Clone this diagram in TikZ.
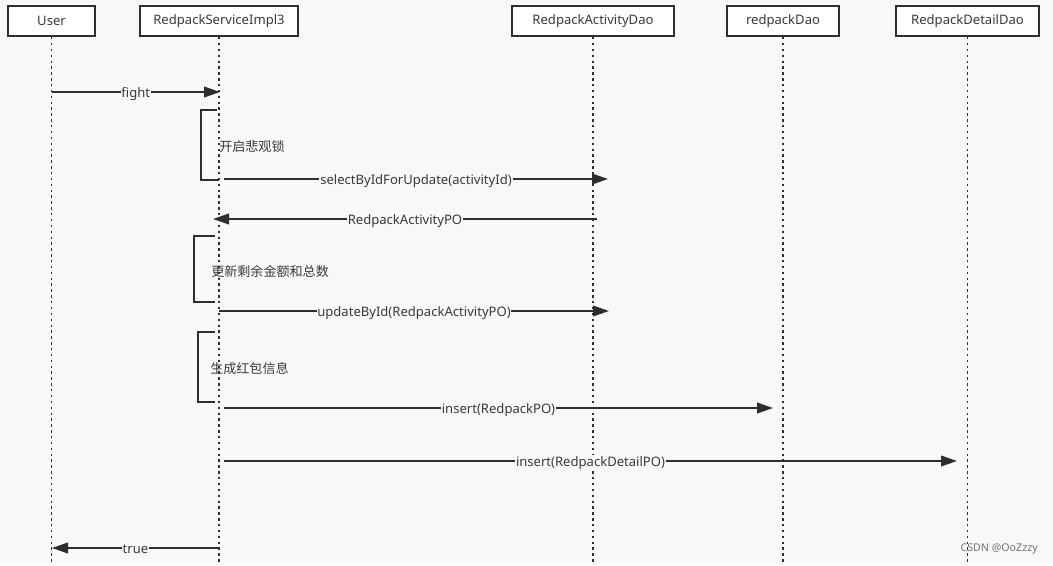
\documentclass[tikz,border=0pt]{standalone}
\usepackage{fontspec}
\setmainfont{Noto Sans}
\newfontfamily\cjk{Noto Sans CJK SC}
\usetikzlibrary{arrows.meta}
\definecolor{bg}{HTML}{F8F8F8}
\definecolor{ink}{HTML}{2E2E2E}
\definecolor{txt}{HTML}{3A3A3A}
\begin{document}
\begin{tikzpicture}[x=0.75pt,y=-0.75pt,
  font=\fontsize{9.8}{11}\selectfont,
  actor/.style={draw=ink,line width=1.6pt,fill=white,minimum height=22.5pt,inner sep=0pt,text=txt},
  life/.style={draw=ink,line width=1.3pt,dash pattern=on 1.8pt off 2.6pt},
  msg/.style={draw=ink,line width=1.3pt,-{Triangle[length=12pt,width=8pt]}},
  lbl/.style={fill=bg,inner sep=0.6pt,text=txt,yshift=-1.2pt},
  brk/.style={draw=ink,line width=1.4pt},
  note/.style={anchor=west,inner sep=0pt,text=txt,font=\cjk\fontsize{9.8}{11}\selectfont}]
\fill[bg] (0,0) rectangle (1053,565);
\useasboundingbox (0,0) rectangle (1053,565);
% actors
\node[actor,minimum width=65.25pt] (user) at (51.5,21) {User};
\node[actor,minimum width=118.5pt] (svc) at (219,21) {RedpackServiceImpl3};
\node[actor,minimum width=121.5pt] (act) at (593,21) {RedpackActivityDao};
\node[actor,minimum width=84pt] (red) at (783,21) {redpackDao};
\node[actor,minimum width=107.25pt] (det) at (967.5,21) {RedpackDetailDao};
% lifeline ends
\coordinate (userE) at (51.5,565);
\coordinate (svcE) at (219,565);
\coordinate (actE) at (593,565);
\coordinate (redE) at (783,565);
\coordinate (detE) at (967.5,565);
\draw[life] (user.south) -- (userE);
\draw[life] (svc.south) -- (svcE);
\draw[life] (act.south) -- (actE);
\draw[life] (red.south) -- (redE);
\draw[life] (det.south) -- (detE);
% message end points
\coordinate (m1a) at (51.5,92);  \coordinate (m1b) at (220,92);
\coordinate (m2a) at (224,179);  \coordinate (m2b) at (608,179);
\coordinate (m3a) at (597,219);  \coordinate (m3b) at (213,219);
\coordinate (m4a) at (219,311);  \coordinate (m4b) at (609,311);
\coordinate (m5a) at (224,408);  \coordinate (m5b) at (773,408);
\coordinate (m6a) at (224,461);  \coordinate (m6b) at (957,461);
\coordinate (m7a) at (219,548);  \coordinate (m7b) at (52,548);
% brackets
\coordinate (b1a) at (217,110); \coordinate (b1b) at (201,110); \coordinate (b1c) at (201,180); \coordinate (b1d) at (219,180);
\coordinate (b2a) at (215,236); \coordinate (b2b) at (194,236); \coordinate (b2c) at (194,302); \coordinate (b2d) at (215,302);
\coordinate (b3a) at (215,332); \coordinate (b3b) at (198,332); \coordinate (b3c) at (198,402); \coordinate (b3d) at (215,402);
\draw[brk] (b1a) -- (b1b) -- (b1c) -- (b1d);
\draw[brk] (b2a) -- (b2b) -- (b2c) -- (b2d);
\draw[brk] (b3a) -- (b3b) -- (b3c) -- (b3d);
\node[note] (n1) at (219,147) {开启悲观锁};
\node[note] (n2) at (211,271) {更新剩余金额和总数};
\node[note] (n3) at (210,369) {生成红包信息};
% messages
\draw[msg] (m1a) -- node[lbl,pos=0.5]{fight} (m1b);
\draw[msg] (m2a) -- node[lbl,pos=0.5]{selectByIdForUpdate(activityId)} (m2b);
\draw[msg] (m3a) -- node[lbl,pos=0.5]{RedpackActivityPO} (m3b);
\draw[msg] (m4a) -- node[lbl,pos=0.5]{updateById(RedpackActivityPO)} (m4b);
\draw[msg] (m5a) -- node[lbl,pos=0.5]{insert(RedpackPO)} (m5b);
\draw[msg] (m6a) -- node[lbl,pos=0.5]{insert(RedpackDetailPO)} (m6b);
\draw[msg] (m7a) -- node[lbl,pos=0.5]{true} (m7b);
% watermark
\node[anchor=east,inner sep=0pt,text=black!55,font=\fontsize{8}{9}\selectfont] (wm) at (1038,549) {CSDN @OoZzzy};
\end{tikzpicture}
\end{document}
